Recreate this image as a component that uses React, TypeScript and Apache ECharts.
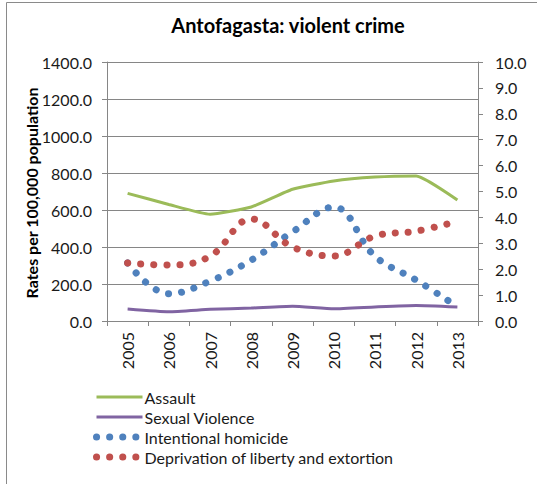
import React, { useEffect, useRef } from "react";
import * as echarts from "echarts";

const years = ["2005", "2006", "2007", "2008", "2009", "2010", "2011", "2012", "2013"];
const assault = [690, 630, 577, 616, 712, 757, 778, 784, 654];
const sexualViolence = [65, 50, 63, 70, 80, 66, 76, 84, 76];
const homicide = [2.24, 1.05, 1.54, 2.35, 3.44, 4.4, 2.5, 1.58, 0.55];
const deprivation = [2.24, 2.16, 2.5, 3.94, 2.86, 2.51, 3.28, 3.47, 3.85];
const leftTicks = { min: 0, max: 1400, interval: 200 };
const rightTicks = { min: 0, max: 10, interval: 1 };

const FONT = "Lato, 'Open Sans', sans-serif";
const AXIS_COLOR = "#868686";
const TEXT_COLOR = "#1a1a1a";
const DOT_DASH = [0.1, 13];

export default function App() {
  const ref = useRef<HTMLDivElement>(null);
  useEffect(() => {
    document.body.style.margin = "0";
    if (!ref.current) return;
    const chart = echarts.init(ref.current, null, { renderer: "svg" });
    const dotStyle = (color: string) => ({
      color,
      width: 7,
      type: DOT_DASH as any,
      cap: "round" as const,
    });
    const hidden = { opacity: 0 };
    chart.setOption({
      animation: false,
      backgroundColor: "#ffffff",
      textStyle: { fontFamily: FONT },
      title: {
        text: "Antofagasta: violent crime",
        left: 283,
        textAlign: "center",
        top: 10,
        textStyle: { fontFamily: FONT, fontSize: 20, fontWeight: "bold", color: "#000" },
      },
      graphic: [
        {
          type: "rect",
          shape: { x: 6.5, y: 2.5, width: 540, height: 500 },
          style: { fill: "none", stroke: "#8a8a8a", lineWidth: 1 },
          silent: true,
        },
        {
          type: "text",
          x: 31,
          y: 193,
          rotation: Math.PI / 2,
          style: {
            text: "Rates per 100,000 population",
            font: `bold 16px ${FONT}`,
            fill: "#000",
            align: "center",
            verticalAlign: "middle",
          },
        },
      ],
      legend: {
        orient: "vertical",
        left: 93,
        top: 387,
        padding: 0,
        itemWidth: 46,
        itemHeight: 14,
        itemGap: 0,
        textStyle: {
          fontFamily: FONT,
          fontSize: 16,
          lineHeight: 20,
          color: TEXT_COLOR,
          padding: [0, 0, 0, -3],
        },
        data: [
          { name: "Assault", itemStyle: hidden, lineStyle: { width: 3 } },
          { name: "Sexual Violence", itemStyle: hidden, lineStyle: { width: 3 } },
          { name: "Intentional homicide", itemStyle: hidden, lineStyle: { width: 7 } },
          { name: "Deprivation of liberty and extortion", itemStyle: hidden, lineStyle: { width: 7 } },
        ],
      },
      grid: { left: 107, right: 59, top: 62, bottom: 163, containLabel: false },
      xAxis: {
        type: "category",
        data: years,
        boundaryGap: true,
        axisLine: { lineStyle: { color: AXIS_COLOR } },
        axisTick: { show: true, length: 5, lineStyle: { color: AXIS_COLOR } },
        axisLabel: { rotate: 90, margin: 11, fontSize: 16, color: TEXT_COLOR, fontFamily: FONT },
      },
      yAxis: [
        {
          type: "value",
          position: "left",
          ...leftTicks,
          axisLine: { show: true, lineStyle: { color: AXIS_COLOR } },
          axisTick: { show: true, length: 5, lineStyle: { color: AXIS_COLOR } },
          splitLine: { show: true, lineStyle: { color: AXIS_COLOR } },
          axisLabel: {
            fontSize: 16,
            color: TEXT_COLOR,
            fontFamily: FONT,
            margin: 15,
            formatter: (v: number) => v.toFixed(1),
          },
        },
        {
          type: "value",
          position: "right",
          ...rightTicks,
          axisLine: { show: true, lineStyle: { color: AXIS_COLOR } },
          axisTick: { show: true, length: 5, lineStyle: { color: AXIS_COLOR } },
          splitLine: { show: false },
          axisLabel: {
            fontSize: 16,
            color: TEXT_COLOR,
            fontFamily: FONT,
            margin: 17,
            formatter: (v: number) => v.toFixed(1),
          },
        },
      ],
      series: [
        {
          name: "Assault",
          type: "line",
          yAxisIndex: 0,
          data: assault,
          symbol: "none",
          smooth: 0.15,
          lineStyle: { color: "#9BBB59", width: 3 },
          itemStyle: { color: "#9BBB59" },
        },
        {
          name: "Sexual Violence",
          type: "line",
          yAxisIndex: 0,
          data: sexualViolence,
          symbol: "none",
          smooth: 0.15,
          lineStyle: { color: "#8064A2", width: 3 },
          itemStyle: { color: "#8064A2" },
        },
        {
          name: "Intentional homicide",
          type: "line",
          yAxisIndex: 1,
          data: homicide,
          symbol: "none",
          smooth: 0.4,
          lineStyle: dotStyle("#4F81BD"),
          itemStyle: { color: "#4F81BD" },
        },
        {
          name: "Deprivation of liberty and extortion",
          type: "line",
          yAxisIndex: 1,
          data: deprivation,
          symbol: "none",
          smooth: 0.4,
          lineStyle: dotStyle("#C0504D"),
          itemStyle: { color: "#C0504D" },
        },
      ],
    });
    return () => chart.dispose();
  }, []);
  return <div ref={ref} style={{ width: 537, height: 484 }} />;
}
